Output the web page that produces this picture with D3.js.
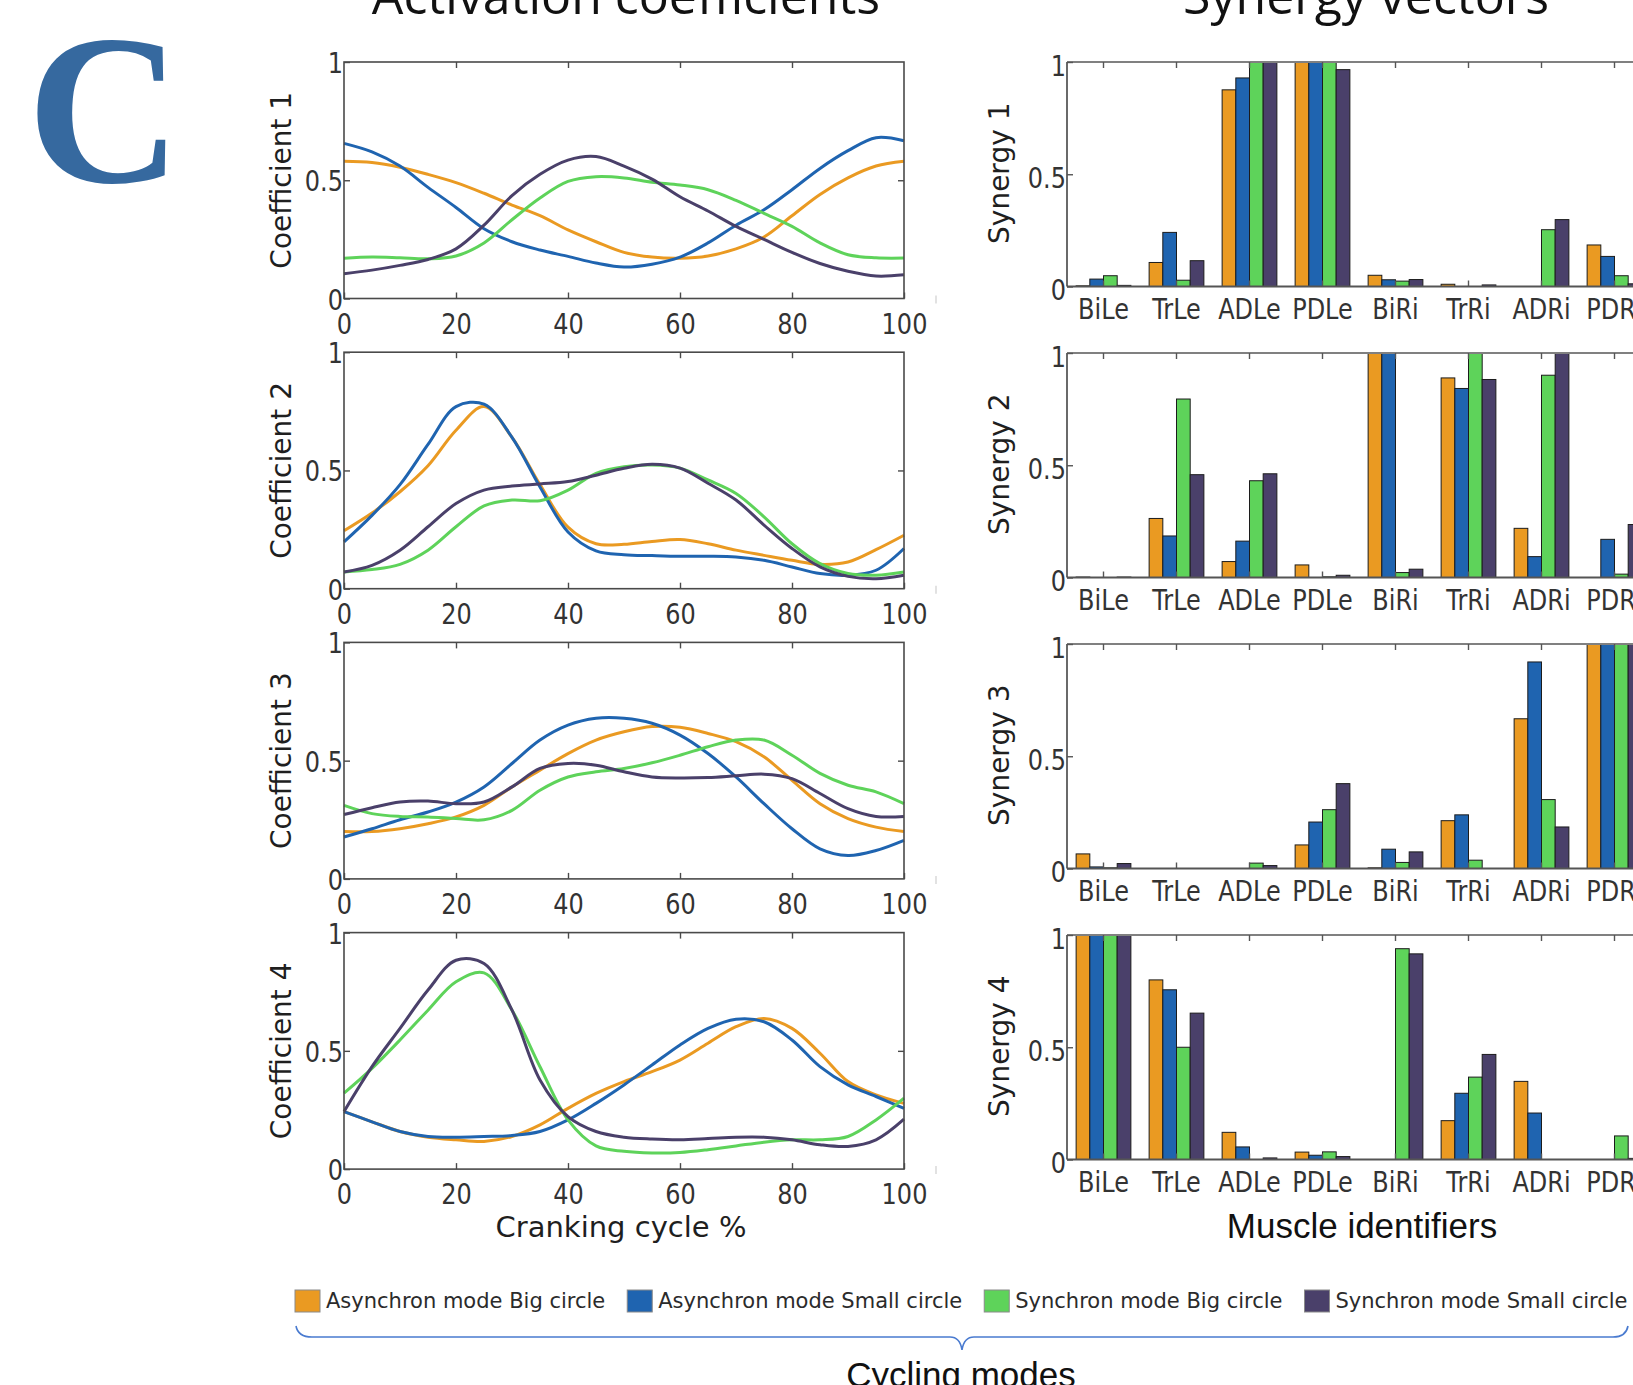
<!DOCTYPE html>
<html>
<head>
<meta charset="utf-8">
<script src="https://cdn.jsdelivr.net/npm/d3@7"></script>
<style>
    html, body { margin: 0; padding: 0; background: #fff; }
    svg { display: block; }
    text { font-family: "DejaVu Sans", Verdana, sans-serif; fill: #2b2b2b; }
</style>
</head>
<body>
<svg id="fig" width="1633" height="1385"></svg>
<script>
// series (same order everywhere)
const seriesNames = ['Asynchron mode Big circle', 'Asynchron mode Small circle', 'Synchron mode Big circle', 'Synchron mode Small circle'];
const seriesColors = ['#ea9a22', '#1f64b0', '#5ed35a', '#4a406a'];

// cranking cycle sample points (%)
const cyclePct = [0, 5, 10, 15, 20, 25, 30, 35, 40, 45, 50, 55, 60, 65, 70, 75, 80, 85, 90, 95, 100];

// activation coefficients, one array per series
const coef1 = [
    [0.58, 0.575, 0.555, 0.525, 0.49, 0.445, 0.395, 0.35, 0.29, 0.24, 0.195, 0.175, 0.17, 0.18, 0.21, 0.26, 0.35, 0.44, 0.51, 0.56, 0.58],
    [0.656, 0.62, 0.56, 0.47, 0.385, 0.295, 0.24, 0.205, 0.178, 0.15, 0.133, 0.145, 0.175, 0.235, 0.31, 0.375, 0.46, 0.55, 0.625, 0.68, 0.667],
    [0.17, 0.175, 0.172, 0.168, 0.18, 0.235, 0.333, 0.425, 0.495, 0.515, 0.51, 0.492, 0.48, 0.46, 0.415, 0.36, 0.305, 0.235, 0.185, 0.172, 0.171],
    [0.105, 0.12, 0.14, 0.165, 0.21, 0.31, 0.435, 0.525, 0.585, 0.6, 0.56, 0.505, 0.43, 0.37, 0.305, 0.25, 0.195, 0.148, 0.115, 0.095, 0.10]
];
const coef2 = [
    [0.245, 0.32, 0.41, 0.52, 0.67, 0.77, 0.64, 0.44, 0.26, 0.19, 0.188, 0.2, 0.208, 0.19, 0.163, 0.141, 0.12, 0.103, 0.113, 0.165, 0.226],
    [0.198, 0.31, 0.44, 0.61, 0.77, 0.78, 0.64, 0.43, 0.24, 0.16, 0.144, 0.14, 0.137, 0.137, 0.134, 0.12, 0.092, 0.064, 0.057, 0.078, 0.17],
    [0.071, 0.081, 0.103, 0.163, 0.262, 0.35, 0.375, 0.372, 0.417, 0.488, 0.516, 0.523, 0.51, 0.46, 0.403, 0.304, 0.19, 0.106, 0.064, 0.057, 0.071],
    [0.071, 0.099, 0.163, 0.262, 0.36, 0.417, 0.434, 0.443, 0.453, 0.48, 0.509, 0.526, 0.51, 0.446, 0.375, 0.269, 0.17, 0.092, 0.052, 0.042, 0.057]
];
const coef3 = [
    [0.2, 0.2, 0.212, 0.233, 0.262, 0.311, 0.389, 0.46, 0.53, 0.587, 0.622, 0.644, 0.641, 0.615, 0.58, 0.516, 0.417, 0.318, 0.255, 0.219, 0.2],
    [0.177, 0.212, 0.25, 0.283, 0.325, 0.389, 0.488, 0.587, 0.65, 0.679, 0.679, 0.658, 0.608, 0.53, 0.431, 0.318, 0.212, 0.127, 0.099, 0.12, 0.163],
    [0.311, 0.276, 0.264, 0.262, 0.255, 0.25, 0.29, 0.375, 0.431, 0.453, 0.467, 0.491, 0.523, 0.559, 0.587, 0.587, 0.523, 0.446, 0.396, 0.368, 0.318],
    [0.272, 0.301, 0.325, 0.329, 0.318, 0.325, 0.389, 0.467, 0.488, 0.481, 0.453, 0.431, 0.427, 0.429, 0.436, 0.443, 0.424, 0.361, 0.297, 0.264, 0.264]
];
const coef4 = [
    [0.243, 0.2, 0.159, 0.135, 0.124, 0.117, 0.138, 0.187, 0.257, 0.32, 0.37, 0.412, 0.461, 0.532, 0.602, 0.637, 0.595, 0.49, 0.37, 0.314, 0.278],
    [0.243, 0.2, 0.159, 0.138, 0.135, 0.138, 0.142, 0.159, 0.208, 0.278, 0.356, 0.44, 0.525, 0.595, 0.634, 0.623, 0.546, 0.433, 0.356, 0.307, 0.257],
    [0.321, 0.426, 0.546, 0.672, 0.792, 0.83, 0.672, 0.433, 0.208, 0.098, 0.075, 0.068, 0.07, 0.082, 0.098, 0.114, 0.124, 0.124, 0.138, 0.208, 0.3],
    [0.243, 0.433, 0.595, 0.757, 0.883, 0.869, 0.672, 0.377, 0.222, 0.159, 0.135, 0.127, 0.124, 0.129, 0.135, 0.135, 0.124, 0.103, 0.096, 0.124, 0.211]
];

// synergy vectors
const muscles = ['BiLe', 'TrLe', 'ADLe', 'PDLe', 'BiRi', 'TrRi', 'ADRi', 'PDRi'];
const syn1 = [
    [0.003, 0.107, 0.876, 1, 0.05, 0.01, 0, 0.185],
    [0.033, 0.241, 0.929, 1, 0.03, 0, 0, 0.134],
    [0.048, 0.028, 1, 1, 0.024, 0, 0.253, 0.048],
    [0.005, 0.115, 1, 0.966, 0.031, 0.007, 0.298, 0.012]
];
const syn2 = [
    [0.002, 0.263, 0.071, 0.056, 1, 0.889, 0.219, 0],
    [0, 0.185, 0.162, 0, 1, 0.842, 0.093, 0.17],
    [0, 0.795, 0.431, 0.003, 0.022, 1, 0.901, 0.015],
    [0.002, 0.458, 0.462, 0.01, 0.037, 0.882, 1, 0.236]
];
const syn3 = [
    [0.065, 0, 0, 0.105, 0.003, 0.213, 0.667, 1],
    [0.007, 0, 0, 0.207, 0.086, 0.239, 0.92, 1],
    [0.003, 0, 0.024, 0.262, 0.027, 0.037, 0.307, 1],
    [0.022, 0, 0.013, 0.378, 0.074, 0, 0.185, 1]
];
const syn4 = [
    [1, 0.8, 0.121, 0.033, 0, 0.173, 0.348, 0],
    [1, 0.756, 0.056, 0.019, 0, 0.295, 0.207, 0],
    [1, 0.5, 0, 0.034, 0.939, 0.367, 0, 0.105],
    [1, 0.652, 0.007, 0.013, 0.916, 0.468, 0, 0.005]
];

const coefs = [coef1, coef2, coef3, coef4];
const syns = [syn1, syn2, syn3, syn4];
const xTicks = [0, 20, 40, 60, 80, 100];
const yTicks = [0, 0.5, 1];

const svg = d3.select('#fig');

// stretched tick labels, like the exported figure
function styleTickText(sel, dy) {
    sel.selectAll('.tick text')
        .attr('y', null).attr('x', null).attr('dy', null)
        .attr('transform', `translate(0,${dy}) scale(1,1.2)`)
        .style('font-size', '24px')
        .style('fill', '#333')
}

// ---------- left column: activation coefficients ----------
let xscale = d3.scaleLinear().domain([0, 100]).range([344, 904]);

coefs.forEach((coef, i) => {
    let top = 62 + i * 290.2;
    let bottom = top + 236.5;
    let yscale = d3.scaleLinear().domain([0, 1]).range([bottom, top]);
    let g = svg.append('g').attr('class', `coef${i + 1}`);

    let line = d3.line()
        .x((d, k) => xscale(cyclePct[k]))
        .y(d => yscale(d))
        .curve(d3.curveCatmullRom.alpha(0.5));

    coef.forEach((vals, s) => {
        g.append('path')
            .datum(vals)
            .attr('d', line)
            .attr('fill', 'none')
            .attr('stroke', seriesColors[s])
            .attr('stroke-width', 3)
    })

    g.append('rect')
        .attr('x', xscale(0)).attr('y', top)
        .attr('width', xscale(100) - xscale(0)).attr('height', bottom - top)
        .attr('fill', 'none').attr('stroke', '#4a4a4a').attr('stroke-width', 1.6)

    let xAxis = d3.axisBottom(xscale).tickValues(xTicks).tickSize(-6).tickSizeOuter(0);
    let xg = g.append('g').attr('transform', `translate(0,${bottom})`).call(xAxis);
    xg.select('.domain').remove();
    styleTickText(xg, 35);

    let topAxis = d3.axisTop(xscale).tickValues(xTicks.slice(1, 5)).tickSize(-6).tickFormat('');
    let tg = g.append('g').attr('transform', `translate(0,${top})`).call(topAxis);
    tg.select('.domain').remove();

    let yAxis = d3.axisLeft(yscale).tickValues(yTicks).tickSize(-6).tickFormat(d3.format(''));
    let yg = g.append('g').attr('transform', `translate(${xscale(0)},0)`).call(yAxis);
    yg.select('.domain').remove();
    yg.selectAll('.tick text')
        .attr('x', null).attr('dy', null)
        .attr('text-anchor', 'end')
        .attr('transform', 'translate(-1,10.5) scale(1,1.2)')
        .style('font-size', '24px').style('fill', '#333');

    let rAxis = d3.axisRight(yscale).tickValues([0.5]).tickSize(-6).tickFormat('');
    let rg = g.append('g').attr('transform', `translate(${xscale(100)},0)`).call(rAxis);
    rg.select('.domain').remove();

    g.selectAll('.tick line').attr('stroke', '#4a4a4a').attr('stroke-width', 1.4);

    // little grey mark right of the panel
    g.append('line')
        .attr('x1', 936).attr('x2', 936)
        .attr('y1', bottom - 3).attr('y2', bottom + 5)
        .attr('stroke', '#cfcfcf').attr('stroke-width', 1.2)

    g.append('text')
        .attr('transform', `translate(291,${(top + bottom) / 2}) rotate(-90)`)
        .attr('text-anchor', 'middle')
        .style('font-size', '28px')
        .style('fill', '#1f1f1f')
        .text(`Coefficient ${i + 1}`)
})

svg.append('text')
    .attr('x', 621).attr('y', 1237)
    .attr('text-anchor', 'middle')
    .style('font-size', '29px').style('fill', '#1f1f1f')
    .text('Cranking cycle %')

// ---------- right column: synergy vectors ----------
let barLeft = 1067;
let barStep = 73;
let xband = d3.scaleBand().domain(muscles)
    .range([barLeft, barLeft + barStep * muscles.length])
    .paddingInner(0.25).paddingOuter(0.125);
let xsub = d3.scaleBand().domain(d3.range(seriesNames.length)).range([0, xband.bandwidth()]);

syns.forEach((syn, i) => {
    let top = 62 + i * 291;
    let bottom = top + 224.5;
    let yscale = d3.scaleLinear().domain([0, 1]).range([bottom, top]);
    let g = svg.append('g').attr('class', `syn${i + 1}`);

    let rows = [];
    syn.forEach((vals, s) => vals.forEach((v, m) => rows.push({ s: s, m: muscles[m], v: v })));

    g.selectAll('rect.bar')
        .data(rows)
        .join('rect')
        .attr('class', 'bar')
        .attr('x', d => xband(d.m) + xsub(d.s))
        .attr('y', d => yscale(d.v))
        .attr('width', xsub.bandwidth())
        .attr('height', d => yscale(0) - yscale(d.v))
        .attr('fill', d => seriesColors[d.s])
        .attr('stroke', '#1c1c1c')
        .attr('stroke-width', 1)

    // frame: top, left, bottom
    g.append('line').attr('x1', barLeft).attr('x2', 1633).attr('y1', top).attr('y2', top)
        .attr('stroke', '#808080').attr('stroke-width', 1.8);
    g.append('line').attr('x1', barLeft).attr('x2', 1633).attr('y1', bottom).attr('y2', bottom)
        .attr('stroke', '#555').attr('stroke-width', 1.8);
    g.append('line').attr('x1', barLeft).attr('x2', barLeft).attr('y1', top).attr('y2', bottom)
        .attr('stroke', '#444').attr('stroke-width', 1.6);

    let xAxis = d3.axisBottom(xband).tickSize(-6).tickSizeOuter(0);
    let xg = g.append('g').attr('transform', `translate(0,${bottom})`).call(xAxis);
    xg.select('.domain').remove();
    styleTickText(xg, 32);

    let topAxis = d3.axisTop(xband).tickSize(-6).tickFormat('');
    let tg = g.append('g').attr('transform', `translate(0,${top})`).call(topAxis);
    tg.select('.domain').remove();

    let yAxis = d3.axisLeft(yscale).tickValues(yTicks).tickSize(-6).tickFormat(d3.format(''));
    let yg = g.append('g').attr('transform', `translate(${barLeft},0)`).call(yAxis);
    yg.select('.domain').remove();
    yg.selectAll('.tick text')
        .attr('x', null).attr('dy', null)
        .attr('text-anchor', 'end')
        .attr('transform', 'translate(-1,13) scale(1,1.2)')
        .style('font-size', '24px').style('fill', '#333');

    g.selectAll('.tick line').attr('stroke', '#555').attr('stroke-width', 1.4);

    g.append('text')
        .attr('transform', `translate(1009,${(top + bottom) / 2 - 1}) rotate(-90)`)
        .attr('text-anchor', 'middle')
        .style('font-size', '28px')
        .style('fill', '#1f1f1f')
        .text(`Synergy ${i + 1}`)
})

svg.append('text')
    .attr('x', 1362).attr('y', 1238)
    .attr('text-anchor', 'middle')
    .style('font-family', '"Liberation Sans", Arial, sans-serif')
    .style('font-size', '35px').style('fill', '#111')
    .text('Muscle identifiers')

// ---------- titles ----------
svg.append('text')
    .attr('x', 626).attr('y', 14)
    .attr('text-anchor', 'middle')
    .style('font-family', '"Open Sans", sans-serif')
    .style('font-size', '50px').style('fill', '#111')
    .text('Activation coefficients')

svg.append('text')
    .attr('x', 1366).attr('y', 14)
    .attr('text-anchor', 'middle')
    .style('font-family', '"Open Sans", sans-serif')
    .style('font-size', '50px').style('fill', '#111')
    .text('Synergy vectors')

svg.append('text')
    .attr('x', 27).attr('y', 182)
    .style('font-family', '"Liberation Serif", "DejaVu Serif", serif')
    .style('font-weight', 'bold')
    .style('font-size', '214px')
    .style('fill', '#36699f')
    .text('C')

// ---------- legend ----------
let legend = svg.append('g').attr('class', 'legend');
let lx = 295;
seriesNames.forEach((name, s) => {
    legend.append('rect')
        .attr('x', lx).attr('y', 1290)
        .attr('width', 25).attr('height', 22)
        .attr('fill', seriesColors[s])
        .attr('stroke', '#8a8a8a').attr('stroke-width', 1)
    let t = legend.append('text')
        .attr('x', lx + 31).attr('y', 1308)
        .style('font-size', '21px').style('fill', '#2b2b2b')
        .text(name)
    lx += 31 + t.node().getComputedTextLength() + 22;
})

// brace under the legend
legend.append('path')
    .attr('d', 'M296,1326 Q298,1337 312,1337 L950,1337 Q960,1337 962,1350 Q964,1337 974,1337 L1613,1337 Q1626,1337 1628,1326')
    .attr('fill', 'none')
    .attr('stroke', '#4a7bd0')
    .attr('stroke-width', 1.6)

svg.append('text')
    .attr('x', 961).attr('y', 1387)
    .attr('text-anchor', 'middle')
    .style('font-family', '"Liberation Sans", Arial, sans-serif')
    .style('font-size', '35px').style('fill', '#111')
    .text('Cycling modes')
</script>
</body>
</html>
